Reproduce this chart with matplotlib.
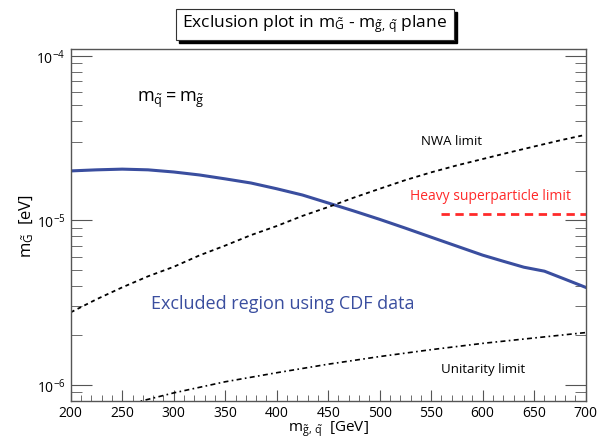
import matplotlib
matplotlib.use('Agg')
import matplotlib.pyplot as plt
from matplotlib.patches import Rectangle
from matplotlib.ticker import MultipleLocator, LogLocator

plt.rcParams['font.family'] = ['Open Sans', 'DejaVu Sans']
plt.rcParams['mathtext.fontset'] = 'custom'
plt.rcParams['mathtext.rm'] = 'Open Sans'
plt.rcParams['mathtext.it'] = 'Open Sans'

# 数据
m_cdf = [200, 225, 250, 275, 300, 325, 350, 375, 400, 425, 450, 475, 500,
         525, 550, 575, 600, 620, 640, 660, 680, 700]
cdf_excl = [1.99e-5, 2.02e-5, 2.04e-5, 2.02e-5, 1.96e-5, 1.88e-5, 1.78e-5,
            1.68e-5, 1.55e-5, 1.42e-5, 1.27e-5, 1.135e-5, 1.01e-5, 8.93e-6,
            7.87e-6, 6.94e-6, 6.12e-6, 5.62e-6, 5.17e-6, 4.89e-6, 4.37e-6,
            3.9e-6]

m_nwa = [200, 225, 250, 275, 300, 325, 350, 375, 400, 425, 450, 475, 500,
         525, 550, 575, 600, 625, 650, 675, 700]
nwa = [2.75e-6, 3.3e-6, 3.9e-6, 4.55e-6, 5.2e-6, 6.1e-6, 7.0e-6, 8.1e-6,
       9.2e-6, 1.06e-5, 1.2e-5, 1.37e-5, 1.55e-5, 1.75e-5, 1.95e-5, 2.15e-5,
       2.35e-5, 2.57e-5, 2.8e-5, 3.05e-5, 3.3e-5]

m_unit = [260, 300, 350, 400, 450, 500, 550, 600, 650, 700]
unitarity = [7.7e-7, 8.9e-7, 1.04e-6, 1.18e-6, 1.33e-6, 1.48e-6, 1.63e-6,
             1.78e-6, 1.92e-6, 2.07e-6]

m_heavy = [560, 700]
heavy = [1.09e-5, 1.09e-5]

fig = plt.figure(figsize=(6.0, 4.39), dpi=100)
ax = fig.add_axes([0.118, 0.085, 0.858, 0.8])

blue = '#3a4e9f'
ax.plot(m_cdf, cdf_excl, color=blue, lw=2.2)
ax.plot(m_nwa, nwa, color='black', lw=1.3, dashes=(2.2, 2.0))
ax.plot(m_unit, unitarity, color='black', lw=1.2, dashes=(3, 2, 1, 2))
ax.plot(m_heavy, heavy, color='#ff2a2a', lw=2.0, dashes=(3, 2))

ax.set_yscale('log')
ax.set_xlim(200, 700)
ax.set_ylim(10 ** -6.098, 10 ** -3.963)

ax.xaxis.set_major_locator(MultipleLocator(50))
ax.xaxis.set_minor_locator(MultipleLocator(10))
ax.yaxis.set_major_locator(LogLocator(base=10))
ax.yaxis.set_minor_locator(LogLocator(base=10, subs=range(2, 10)))

gray = '#555555'
for s in ax.spines.values():
    s.set_color(gray)
    s.set_linewidth(1.0)
ax.tick_params(which='both', direction='in', color=gray, top=False,
               right=True, labelsize=10)
ax.tick_params(axis='y', which='major', length=15, pad=4)
ax.tick_params(axis='y', which='minor', length=8)
ax.tick_params(axis='x', which='major', length=8, pad=3)
ax.tick_params(axis='x', which='minor', length=4)

ax.set_xlabel(r'$\mathrm{m}_{\tilde{\mathrm{g}},\,\tilde{\mathrm{q}}}$  [GeV]',
              fontsize=11, labelpad=-1)
ax.set_ylabel(r'$\mathrm{m}_{\tilde{\mathrm{G}}}$  [eV]', fontsize=12,
              labelpad=0)

ax.text(0.128, 0.86, r'$\mathrm{m}_{\tilde{\mathrm{q}}} = \mathrm{m}_{\tilde{\mathrm{g}}}$',
        transform=ax.transAxes, fontsize=13, ha='left', va='center')
ax.text(0.74, 0.742, 'NWA limit', transform=ax.transAxes, fontsize=9.5,
        ha='center', va='center')
ax.text(0.658, 0.583, 'Heavy superparticle limit', transform=ax.transAxes,
        fontsize=10, color='#ff2a2a', ha='left', va='center')
ax.text(0.155, 0.279, 'Excluded region using CDF data', transform=ax.transAxes,
        fontsize=13, color=blue, ha='left', va='center')
ax.text(0.8, 0.091, 'Unitarity limit', transform=ax.transAxes, fontsize=9.5,
        ha='center', va='center')

# 标题框（带阴影）
W, H = 600.0, 439.0
x0, y0, w, h = 176 / W, 1 - 41 / H, 278 / W, 31 / H
fig.patches.append(Rectangle((x0 + 3 / W, y0 - 3 / H), w, h,
                             transform=fig.transFigure, facecolor='black',
                             edgecolor='black', zorder=1))
fig.patches.append(Rectangle((x0, y0), w, h, transform=fig.transFigure,
                             facecolor='white', edgecolor='#333333', lw=0.8,
                             zorder=2))
fig.text(x0 + w / 2, y0 + h / 2 + 1 / H,
         r'Exclusion plot in m$_{\tilde{\mathrm{G}}}$ - m$_{\tilde{\mathrm{g}},\,\tilde{\mathrm{q}}}$ plane',
         ha='center', va='center', fontsize=12.5, zorder=3)

fig.savefig('out.png', dpi=100)
